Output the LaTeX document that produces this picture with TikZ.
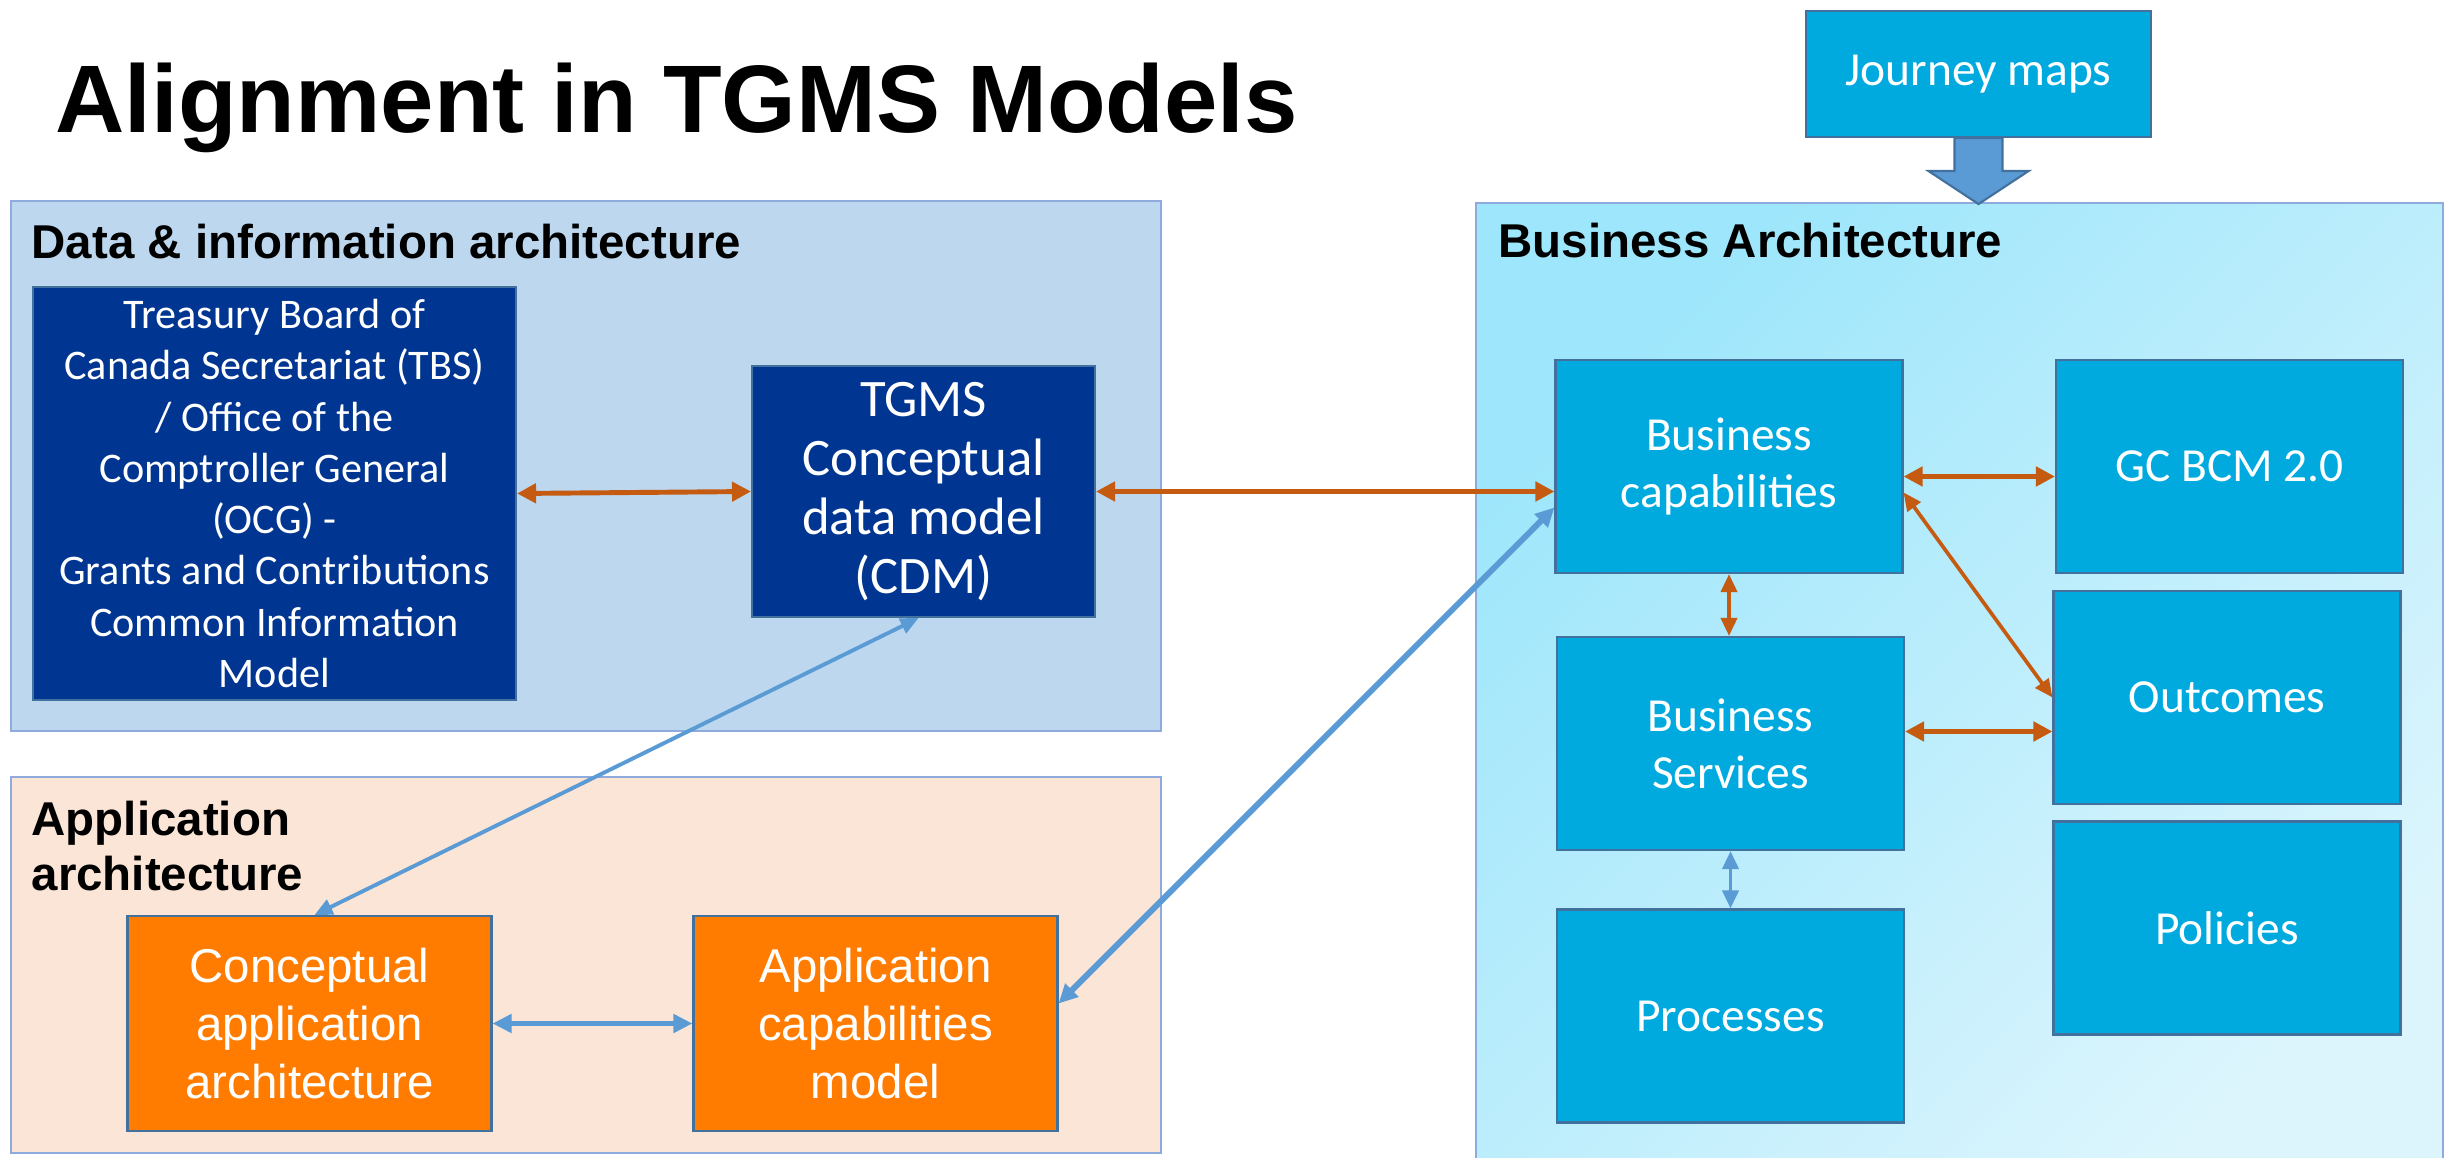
\documentclass[tikz,border=0pt]{standalone}
\usepackage{fontspec}
\setmainfont{Carlito}
\newfontfamily\arialfont{Liberation Sans}
\usetikzlibrary{arrows.meta}

\definecolor{datafill}{HTML}{BDD7EE}
\definecolor{appfill}{HTML}{FBE5D6}
\definecolor{areaedge}{HTML}{8FAADC}
\definecolor{biztop}{HTML}{9DE6FB}
\definecolor{bizbottom}{HTML}{DCF5FD}
\definecolor{navy}{HTML}{003591}
\definecolor{boxedge}{HTML}{41719C}
\definecolor{skyblue}{HTML}{00AADF}
\definecolor{tangerine}{HTML}{FF7C00}
\definecolor{rust}{HTML}{C55A11}
\definecolor{steel}{HTML}{5B9BD5}

\begin{document}
\begin{tikzpicture}[
	areabox/.style = {draw=areaedge, line width=0.6pt, inner sep=0},
	areatitle/.style = {anchor=base west, inner sep=0, align=left,
		font=\arialfont\bfseries\fontsize{13.5}{15.6}\selectfont},
	darkbox/.style = {draw=boxedge, line width=0.6pt, fill=navy, text=white, align=center, inner sep=1pt},
	orangebox/.style = {draw=boxedge, line width=0.6pt, fill=tangerine, text=white, align=center, inner sep=1pt,
		minimum width=3.64cm, minimum height=2.15cm, font=\arialfont\fontsize{13.5}{16.5}\selectfont},
	cyanbox/.style = {draw=boxedge, line width=0.6pt, fill=skyblue, text=white, align=center, inner sep=1pt,
		minimum width=3.47cm, minimum height=2.13cm, font=\fontsize{13.5}{16.3}\selectfont},
	orangearrow/.style = {draw=rust, line width=1.4pt, {Triangle[length=1.9mm,width=1.9mm]}-{Triangle[length=1.9mm,width=1.9mm]}},
	orangethin/.style = {draw=rust, line width=1.05pt, {Triangle[length=1.8mm,width=1.6mm]}-{Triangle[length=1.8mm,width=1.6mm]}},
	bluearrow/.style = {draw=steel, line width=1.7pt, {Triangle[length=1.9mm,width=1.8mm]}-{Triangle[length=1.9mm,width=1.8mm]}},
	bluethin/.style = {draw=steel, line width=1.1pt, {Triangle[length=1.8mm,width=1.6mm]}-{Triangle[length=1.8mm,width=1.6mm]}}
]
\useasboundingbox (0,0) rectangle (24.6,11.57);
\fill [white] (0,0) rectangle (24.6,11.57);

% title
\node (heading) [anchor=base west, inner sep=0, font=\arialfont\bfseries\fontsize{27.3}{33}\selectfont] at (0.55,10.24) {Alignment in TGMS Models};

% the three architecture areas
\node (databox) [areabox, fill=datafill, minimum width=11.5cm, minimum height=5.3cm] at (5.86,6.91) {};
\node (appbox) [areabox, fill=appfill, minimum width=11.5cm, minimum height=3.76cm] at (5.86,1.92) {};
\node (bizbox) [areabox, top color=biztop, bottom color=bizbottom, shading angle=45, minimum width=9.67cm, minimum height=9.67cm] at (19.595,4.705) {};

\node (datatitle) [areatitle] at (0.31,8.98) {Data \& information architecture};
\node (apptitle) [areatitle] at (0.31,2.67) {Application\\architecture};
\node (biztitle) [areatitle] at (14.98,8.99) {Business Architecture};

% data & information
\node (tbs) [darkbox, minimum width=4.83cm, minimum height=4.13cm, font=\fontsize{12}{14.6}\selectfont] at (2.745,6.635) {Treasury Board of\\Canada Secretariat (TBS)\\/ Office of the\\Comptroller General\\(OCG) -\\Grants and Contributions\\Common Information\\Model};
\node (cdm) [darkbox, minimum width=3.43cm, minimum height=2.51cm, font=\fontsize{15}{16.8}\selectfont] at (9.235,6.655) {TGMS\\Conceptual\\data model\\(CDM)};

% application
\node (caa) [orangebox] at (3.095,1.335) {Conceptual\\application\\architecture};
\node (acm) [orangebox] at (8.755,1.335) {Application\\capabilities\\model};

% business
\node (journey) [cyanbox, minimum width=3.45cm, minimum height=1.26cm] at (19.785,10.83) {Journey maps};
\node (bcap) [cyanbox] at (17.29,6.905) {Business\\capabilities};
\node (gcbcm) [cyanbox] at (22.295,6.905) {GC BCM 2.0};
\node (bserv) [cyanbox] at (17.305,4.135) {Business\\Services};
\node (procs) [cyanbox] at (17.305,1.41) {Processes};
\node (outc) [cyanbox] at (22.27,4.595) {Outcomes};
\node (polic) [cyanbox] at (22.27,2.29) {Policies};

% block arrow into the business area
\draw [fill=steel, draw=boxedge, line width=0.6pt] ([xshift=-2.4mm]journey.south) -- ++(0,-0.33) -- ++(-0.26,0)
	-- ([yshift=-6.6mm]journey.south) -- ++(0.5,0.33) -- ++(-0.26,0) -- ([xshift=2.4mm]journey.south) -- cycle;

% links
\draw [orangearrow] (tbs.east) -- (cdm.west);
\draw [orangearrow] (cdm.east) -- (cdm.east -| bcap.west);
\draw [orangearrow] ([yshift=-1mm]bcap.east) -- ([yshift=-1mm]gcbcm.west);
\draw [orangearrow] ([yshift=1.2mm]bserv.east) -- ([yshift=1.2mm]bserv.east -| outc.west);
\draw [orangethin] ([yshift=-2.6mm]bcap.east) -- (outc.west);
\draw [orangethin] (bcap.south) -- (bcap.south |- bserv.north);
\draw [bluethin] (bserv.south) -- (bserv.south |- procs.north);
\draw [bluethin] ([xshift=-0.5mm]cdm.south) -- ([xshift=0.5mm]caa.north);
\draw [bluearrow] (caa.east) -- (acm.west);
\draw [bluearrow] ([yshift=2mm]acm.east) -- ([yshift=-4.1mm]bcap.west);
\end{tikzpicture}
\end{document}
